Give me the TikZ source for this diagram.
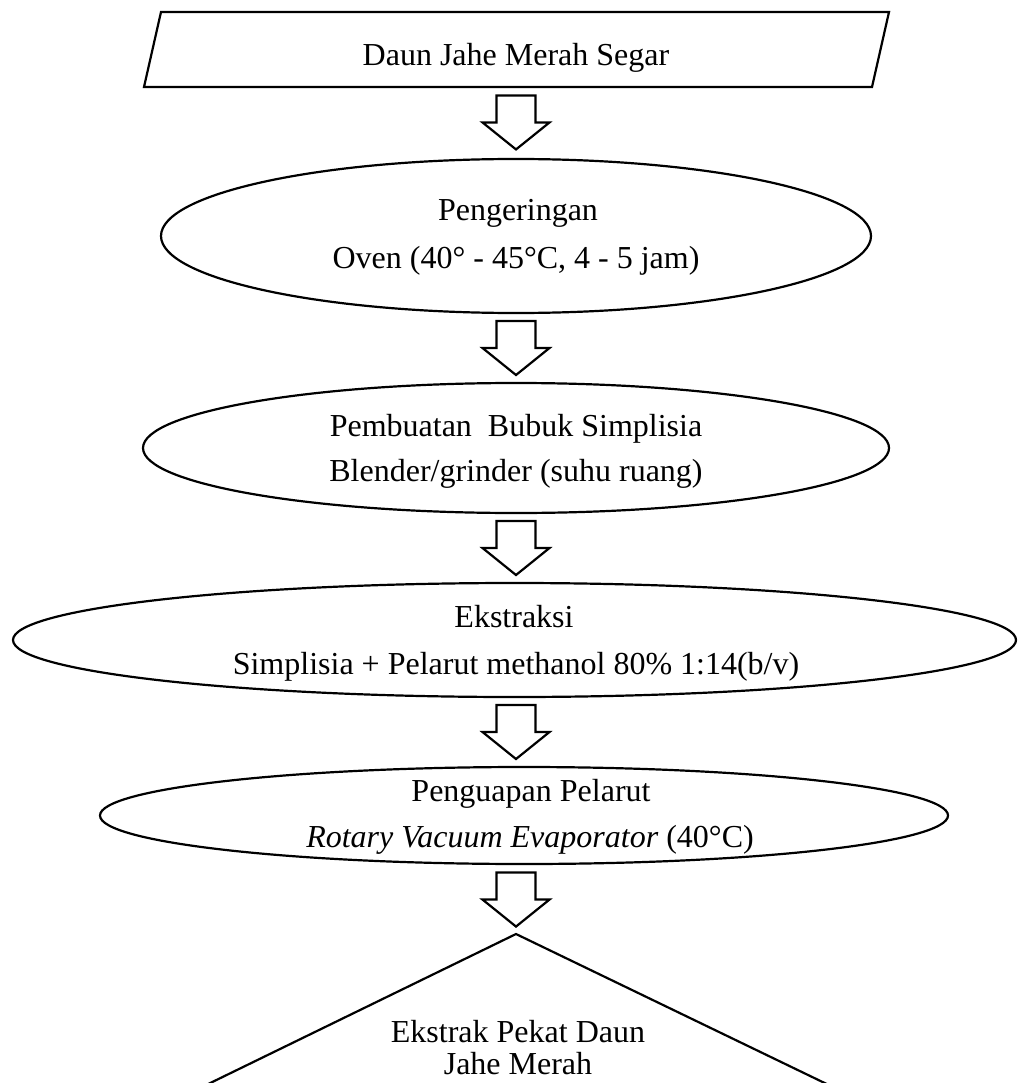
\documentclass[tikz,border=0pt]{standalone}
\usepackage{fontspec}
\setmainfont{Liberation Serif}
\usetikzlibrary{shapes.geometric,calc}
\tikzset{
  lw/.style={line width=2.2pt},
  oval/.style={ellipse, draw, lw, inner sep=0pt},
  lbl/.style={anchor=base, inner sep=0pt, font=\fontsize{32}{36}\selectfont},
  barrow/.pic={\draw[lw, fill=white, line join=miter]
     (-19.5,-27) -- (19.5,-27) -- (19.5,0) -- (33.5,0) -- (0,27) -- (-33.5,0) -- (-19.5,0) -- cycle;}
}
\newcommand\barrowbetween[2]{\path let \p1=($(#1)!0.5!(#2)$) in (516pt,\y1) pic{barrow};}
\begin{document}
\begin{tikzpicture}[x=1pt,y=-1pt]
\useasboundingbox (0,0) rectangle (1018,1083);
\clip (0,0) rectangle (1018,1083);

% input parallelogram
\coordinate (pTL) at (161,12);
\coordinate (pTR) at (889,12);
\coordinate (pBR) at (872,87);
\coordinate (pBL) at (144,87);
\coordinate (pS) at (516,87);
\draw[lw, line join=miter] (pTL) -- (pTR) -- (pBR) -- (pBL) -- cycle;
\node[lbl] (t0) at (516,66) {Daun Jahe Merah Segar};

% process ellipses
\node[oval, minimum width=710pt, minimum height=154pt] (e1) at (516,236) {};
\node[lbl] (t1a) at (518,221) {Pengeringan};
\node[lbl] (t1b) at (516,269) {Oven (40° - 45°C, 4 - 5 jam)};

\node[oval, minimum width=746pt, minimum height=130pt] (e2) at (516,448) {};
\node[lbl] (t2a) at (516,436) {Pembuatan~ Bubuk Simplisia};
\node[lbl] (t2b) at (516,481) {Blender/grinder (suhu ruang)};

\node[oval, minimum width=1003pt, minimum height=114pt] (e3) at (514.5,640) {};
\node[lbl] (t3a) at (514,627) {Ekstraksi};
\node[lbl] (t3b) at (516,674) {Simplisia + Pelarut methanol 80\%  1:14(b/v)};

\node[oval, minimum width=848pt, minimum height=97pt] (e4) at (524,815.5) {};
\node[lbl] (t4a) at (531,801) {Penguapan Pelarut};
\node[lbl] (t4b) at (530,847) {\textit{Rotary Vacuum Evaporator} (40°C)};

% output triangle (cut by the lower edge)
\coordinate (tri) at (516,934);
\coordinate (triL) at (200,1088);
\coordinate (triR) at (835,1088);
\draw[lw, line join=miter] (triL) -- (tri) -- (triR);
\node[lbl] (t5a) at (518,1042) {Ekstrak Pekat Daun};
\node[lbl] (t5b) at (518,1074) {Jahe Merah};

% block arrows
\barrowbetween{pS}{e1.north}
\barrowbetween{e1.south}{e2.north}
\barrowbetween{e2.south}{e3.north}
\barrowbetween{e3.south}{e4.north}
\barrowbetween{e4.south}{tri}
\end{tikzpicture}
\end{document}
